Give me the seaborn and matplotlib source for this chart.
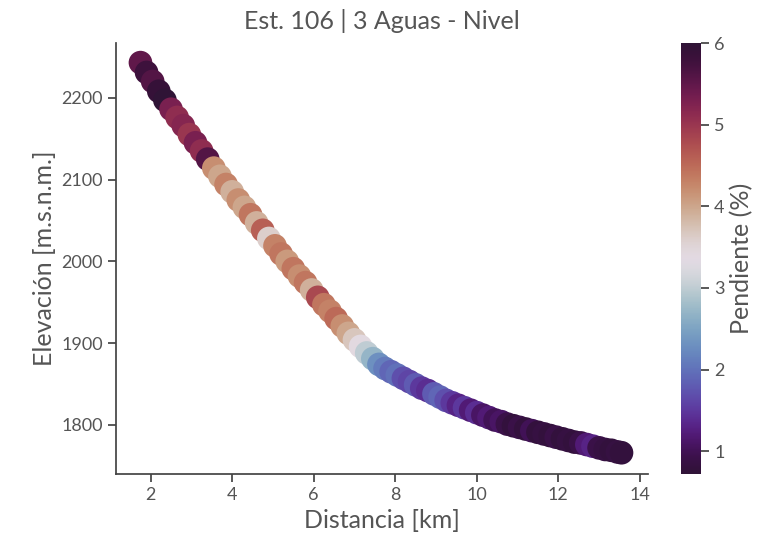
import matplotlib
matplotlib.use("Agg")
import matplotlib.pyplot as plt
import seaborn as sns
import pandas as pd

# ---- data ----
distancia_km = [1.75, 1.90, 2.05, 2.20, 2.35, 2.50, 2.65, 2.80, 2.95, 3.10,
                3.25, 3.40, 3.55, 3.70, 3.85, 4.00, 4.15, 4.30, 4.45, 4.60,
                4.75, 4.90, 5.05, 5.20, 5.35, 5.50, 5.65, 5.80, 5.95, 6.10,
                6.25, 6.40, 6.55, 6.70, 6.85, 7.00, 7.15, 7.30, 7.45, 7.60,
                7.75, 7.90, 8.05, 8.20, 8.35, 8.50, 8.65, 8.80, 8.95, 9.10,
                9.25, 9.40, 9.55, 9.70, 9.85, 10.00, 10.15, 10.30, 10.45, 10.60,
                10.75, 10.90, 11.05, 11.20, 11.35, 11.50, 11.65, 11.80, 11.95, 12.10,
                12.25, 12.40, 12.55, 12.70, 12.85, 13.00, 13.15, 13.30, 13.45, 13.55]

elevacion_m = [2243, 2231, 2220, 2208, 2197, 2186, 2176, 2166, 2155, 2145,
               2135, 2125, 2114, 2104, 2094, 2085, 2075, 2066, 2057, 2047,
               2038, 2028, 2019, 2009, 2000, 1991, 1982, 1974, 1965, 1956,
               1947, 1939, 1930, 1921, 1912, 1904, 1896, 1888, 1881, 1874,
               1869, 1865, 1861, 1857, 1853, 1849, 1845, 1842, 1838, 1834,
               1830, 1827, 1824, 1821, 1818, 1815, 1812, 1809, 1806, 1804,
               1801, 1799, 1797, 1795, 1793, 1791, 1789, 1787, 1785, 1783,
               1781, 1779, 1778, 1776, 1774, 1772, 1770, 1769, 1767, 1766]

pendiente_pct = [5.5, 5.8, 5.6, 5.9, 6.0, 5.3, 5.1, 5.2, 5.0, 5.3,
                 5.1, 5.6, 4.2, 4.0, 4.3, 3.9, 4.2, 4.0, 4.4, 3.9,
                 4.6, 3.6, 4.3, 4.4, 4.1, 4.4, 4.2, 4.4, 3.9, 4.8,
                 4.4, 4.3, 4.5, 4.2, 4.0, 3.7, 3.4, 3.0, 2.7, 2.3,
                 2.1, 1.9, 2.0, 1.7, 1.6, 1.8, 1.5, 1.4, 1.8, 1.9,
                 1.7, 1.5, 1.3, 1.5, 1.2, 1.4, 1.1, 1.2, 1.0, 1.1,
                 0.9, 0.8, 0.9, 0.8, 1.0, 0.8, 0.85, 0.8, 0.9, 0.8,
                 0.85, 0.8, 0.9, 1.2, 1.3, 0.9, 0.85, 0.8, 0.85, 0.8]

x_ticks = [2, 4, 6, 8, 10, 12, 14]
y_ticks = [1800, 1900, 2000, 2100, 2200]
cb_ticks = [1, 2, 3, 4, 5, 6]

titulo = "Est. 106 | 3 Aguas - Nivel"
xlabel = "Distancia [km]"
ylabel = "Elevación [m.s.n.m.]"
cblabel = "Pendiente (%)"

# ---- styling ----
sns.set_theme(style="ticks")
plt.rcParams['font.family'] = ['Lato', 'DejaVu Sans']
text_color = "#555555"

df = pd.DataFrame({"dist": distancia_km, "elev": elevacion_m, "pend": pendiente_pct})

W, H = 761, 553
fig = plt.figure(figsize=(W / 100, H / 100), dpi=100)
ax = fig.add_axes([116 / W, (H - 474) / H, (648 - 116) / W, (474 - 43) / H])
cax = fig.add_axes([681 / W, (H - 474) / H, 20 / W, (474 - 43) / H])

norm = plt.Normalize(0.72, 6.0)
cmap = "twilight_shifted"
sns.scatterplot(data=df, x="dist", y="elev", hue="pend", palette=cmap,
                hue_norm=norm, s=290, linewidth=0, legend=False, ax=ax)

ax.set_xlim(1.15, 14.2)
ax.set_ylim(1740, 2267)
ax.set_xticks(x_ticks)
ax.set_yticks(y_ticks)
ax.set_title(titulo, fontsize=18, color=text_color, pad=10)
ax.set_xlabel(xlabel, fontsize=18, color=text_color)
ax.set_ylabel(ylabel, fontsize=18, color=text_color)
ax.tick_params(axis="both", labelsize=13, labelcolor=text_color, color="#444444")
for sp in ax.spines.values():
    sp.set_color("#444444")
sns.despine(ax=ax)

sm = plt.cm.ScalarMappable(cmap=cmap, norm=norm)
cb = fig.colorbar(sm, cax=cax)
cb.set_ticks(cb_ticks)
cb.outline.set_visible(False)
cb.ax.tick_params(labelsize=13, labelcolor=text_color, color="#444444")
cb.set_label(cblabel, fontsize=18, color=text_color)

fig.savefig("out.png", dpi=100)
